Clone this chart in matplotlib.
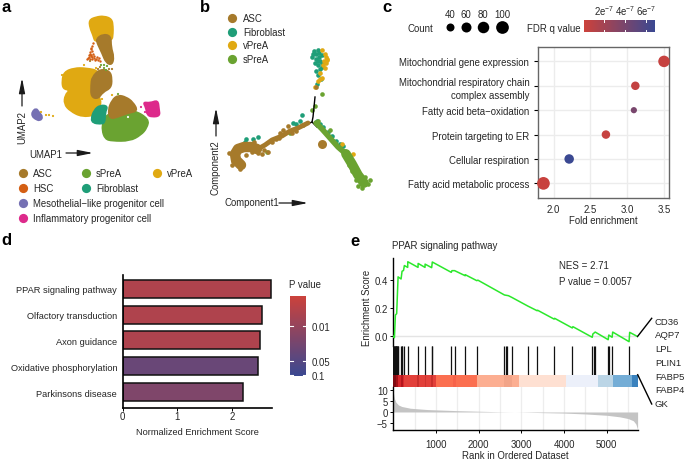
import numpy as np
import matplotlib
matplotlib.use("Agg")
import matplotlib.pyplot as plt
from matplotlib.colors import LinearSegmentedColormap
from matplotlib.patches import PathPatch
from matplotlib.path import Path

plt.rcParams['font.family'] = ['Liberation Sans', 'DejaVu Sans']
plt.rcParams['mathtext.default'] = 'regular'
plt.rcParams['axes.unicode_minus'] = True

W, H = 685, 460
TXT = '#262626'
ASC = '#A67A2B'
SPRE = '#6AA331'
VPRE = '#E0A912'
HSC = '#D45F14'
FIB = '#1F9E78'
MESO = '#7570B3'
INFL = '#DD2A8B'

# a: UMAP regions, outlines
umap_regions = [
    (VPRE, [(89, 21), (96, 18), (104, 17), (112, 20), (113, 28), (113, 34), (112, 42), (103, 38), (98, 39), (95, 43), (93, 36), (90, 29)]),
    (ASC, [(96, 40), (103, 35), (111, 37), (111, 48), (114, 58), (112, 66), (106, 64), (102, 54), (98, 46)]),
    (VPRE, [(62, 82), (64, 73), (74, 69), (86, 69), (100, 72), (98, 86), (96, 95), (101, 100), (100, 109), (96, 116), (82, 118), (70, 112), (64, 105), (65, 96), (70, 91), (63, 90)]),
    (ASC, [(92, 78), (100, 70), (110, 72), (112, 80), (111, 89), (103, 93), (98, 100), (91, 98), (91, 86)]),
    (SPRE, [(103, 123), (107, 115), (120, 113), (134, 111), (149, 120), (147, 129), (141, 136), (130, 142), (112, 142), (105, 140), (102, 131)]),
    (FIB, [(91, 120), (94, 111), (100, 106), (108, 107), (105, 114), (105, 124), (100, 125), (93, 124)]),
    (ASC, [(108, 111), (112, 101), (118, 96), (126, 98), (133, 103), (138, 112), (128, 114), (118, 118), (110, 120)]),
    (INFL, [(143, 103), (150, 104), (158, 101), (159, 110), (160, 117), (152, 118), (147, 116), (146, 109)]),
    (MESO, [(32, 113), (36, 109), (39, 113), (43, 118), (40, 122), (35, 120), (32, 117)]),
]
hsc_x = [93, 92, 91, 90, 89, 88, 90, 92, 94, 96, 98, 100, 97, 93, 91, 87, 89, 91, 95, 99, 92, 90, 94, 91, 92]
hsc_y = [44, 47, 50, 53, 56, 59, 60, 58, 59, 60, 61, 62, 58, 55, 57, 60, 58, 56, 61, 59, 52, 55, 57, 49, 60]
speck_x = [46, 49, 53, 41, 104, 106, 100, 90, 84, 112, 96, 118, 102, 145, 141, 104, 107, 109, 112, 62, 96, 98, 101, 128]
speck_y = [116, 116, 117, 113, 69, 71, 68, 62, 66, 96, 103, 95, 100, 113, 108, 66, 67, 70, 70, 76, 69, 70, 66, 118]
speck_c = [VPRE, VPRE, VPRE, VPRE, SPRE, SPRE, ASC, ASC, VPRE, VPRE, VPRE, SPRE, VPRE, INFL, INFL, SPRE, SPRE, ASC, ASC, VPRE, VPRE, ASC, SPRE, 'white']

# b: trajectory
traj_x = [[315, 313, 312, 317], [312, 290, 262]]
traj_y = [[98, 118, 123, 128], [123, 133, 147]]
asc_band_x = [241, 236, 235, 238, 244, 251, 257]
asc_band_y = [166, 161, 155, 150, 148, 148, 150]
asc_line_x = [258, 265, 272, 282, 290, 298, 308]
asc_line_y = [150, 146, 141, 137, 132, 129, 124]
spre_line_x = [316, 322, 330, 338, 346]
spre_line_y = [124, 130, 139, 148, 155]
spre_wide_x = [346, 352, 358, 364]
spre_wide_y = [155, 165, 176, 184]
asc_x = [229, 232, 246, 252, 258, 264, 268, 272, 276, 280, 288, 296, 303, 316, 233, 240, 248, 254, 262, 283, 279, 292]
asc_y = [154, 166, 156, 153, 154, 151, 153, 143, 140, 134, 127, 132, 126, 88, 162, 170, 150, 143, 155, 131, 139, 134]
asc_blob_x = [322]
asc_blob_y = [145]
fib_x = [312, 314, 316, 318, 320, 322, 318, 320, 316, 318, 321, 317, 302, 300, 296, 293, 246, 253, 258, 245, 317, 320, 323, 328, 332, 336, 340, 343, 319, 322, 313, 316, 319, 315, 322, 318]
fib_y = [58, 52, 60, 51, 62, 56, 66, 70, 72, 76, 80, 85, 116, 122, 125, 124, 140, 140, 138, 143, 122, 125, 128, 133, 137, 142, 145, 147, 54, 64, 55, 55, 58, 64, 68, 62]
vpre_x = [322, 325, 327, 326, 323, 325, 320, 318, 322, 315, 353, 342, 327, 320, 326, 324]
vpre_y = [51, 55, 60, 64, 66, 69, 80, 82, 79, 88, 155, 145, 61, 74, 58, 62]
spre_x = [322, 315, 312, 290, 267, 318, 330, 345, 365, 358, 362, 368, 370, 352, 356, 349]
spre_y = [95, 107, 111, 134, 153, 122, 131, 152, 178, 187, 189, 185, 181, 172, 181, 166]

# c: dot plot
terms = ['Mitochondrial gene expression', 'Mitochondrial respiratory chain\ncomplex assembly',
         'Fatty acid beta\u2212oxidation', 'Protein targeting to ER', 'Cellular respiration',
         'Fatty acid metabolic process']
fold = [3.5, 3.11, 3.09, 2.71, 2.21, 1.86]
counts = [80, 45, 22, 45, 55, 100]
fdr = [0.4e-7, 0.5e-7, 4.0e-7, 0.4e-7, 6.9e-7, 0.3e-7]
count_legend = [40, 60, 80, 100]
fdr_ticks = [2e-7, 4e-7, 6e-7]
fdr_labels = ['2e$^{-7}$', '4e$^{-7}$', '6e$^{-7}$']

# d: bars
pathways = ['PPAR signaling pathway', 'Olfactory transduction', 'Axon guidance',
            'Oxidative phosphorylation', 'Parkinsons disease']
nes = [2.71, 2.55, 2.5, 2.47, 2.19]
bar_pos = [0.2, 0.2, 0.21, 0.68, 0.53]

# e: GSEA
es_rank = [1, 27, 50, 80, 113, 183, 206, 240, 260, 338, 340, 580, 582, 743, 745, 899, 914, 1358, 1374, 1436, 1685, 1687,
           1957, 1980, 2603, 2696, 2775, 3148, 3366, 3380, 3763, 3778, 4191, 4205, 4658, 4672, 4727, 5031, 5045, 5123, 5137,
           5520, 5534, 5720]
es_val = [0.0, -0.01, 0.15, 0.16, 0.42, 0.405, 0.46, 0.465, 0.50, 0.487, 0.527, 0.487, 0.515, 0.487, 0.51, 0.485, 0.525,
          0.452, 0.464, 0.464, 0.428, 0.435, 0.393, 0.397, 0.292, 0.287, 0.275, 0.214, 0.181, 0.184, 0.122, 0.127, 0.059,
          0.068, -0.007, 0.016, 0.03, -0.024, 0.009, -0.007, 0.03, -0.038, 0.028, -0.002]
hits = [5, 15, 25, 35, 45, 55, 65, 75, 85, 95, 105, 113, 183, 195, 206, 260, 338, 580, 743, 899, 914, 1358, 1436, 1685,
        1965, 2603, 2630, 2660, 2775, 3148, 3366, 3763, 4191, 4658, 4700, 4727, 5031, 5060, 5123, 5520]
strip_edges = [1, 60, 110, 190, 220, 250, 560, 600, 740, 770, 880, 930, 1010, 1400, 1480, 1957, 2600, 2780, 2950, 4045, 4800,
               5150, 5580, 5722]
strip_colors = ['#7F0A12', '#A50F15', '#D7262B', '#B3161C', '#D7262B', '#E2403A', '#C9302C', '#E2403A', '#CF3530', '#E2403A',
                '#C9302C', '#E2403A', '#FB6F50', '#F7634A', '#FB6F50', '#FCAE91', '#F2A488', '#FCAE91', '#FEE0D2', '#ECF0FA',
                '#BBD5E6', '#74ADD6', '#3A82BE']
metric_rank = [1, 30, 60, 120, 200, 400, 800, 1500, 2500, 3000, 3500, 4000, 4500, 5000, 5300, 5500, 5620, 5680, 5720]
metric_val = [9, 6, 4.5, 3.2, 2.5, 1.7, 1.1, 0.6, 0.1, -0.05, -0.3, -0.5, -0.9, -1.5, -2.2, -3, -4, -5.5, -8]
genes = ['CD36', 'AQP7', 'LPL', 'PLIN1', 'FABP5', 'FABP4', 'GK']
gene_y = [322.3, 335.7, 349.3, 363.3, 377.3, 390.7, 405]

fdr_cmap = LinearSegmentedColormap.from_list('fdr', ['#CC423C', '#3B4992'])
FS = 6.9


def ax_px(x0, y0, x1, y1):
    return fig.add_axes([x0 / W, 1 - y1 / H, (x1 - x0) / W, (y1 - y0) / H])


def round_blob(pts):
    # closed outline drawn with quadratic corners
    p = np.array(pts, dtype=float)
    mid = (p + np.roll(p, -1, axis=0)) / 2
    verts = [mid[-1]]
    codes = [Path.MOVETO]
    for i in range(len(p)):
        verts += [p[i], mid[i]]
        codes += [Path.CURVE3, Path.CURVE3]
    return Path(verts, codes)


fig = plt.figure(figsize=(W / 100, H / 100), dpi=100)

# overlay in image pixels for labels, legends and panels a, b
ov = fig.add_axes([0, 0, 1, 1])
ov.set_xlim(0, W)
ov.set_ylim(H, 0)
ov.axis('off')


def txt(x, y, s, size=FS, ha='left', va='center', **kw):
    kw.setdefault('color', TXT)
    ov.text(x, y, s, fontsize=size, ha=ha, va=va, **kw)


def arrow(x0, y0, x1, y1):
    ov.annotate('', xy=(x1, y1), xytext=(x0, y0),
                arrowprops=dict(arrowstyle='-|>,head_width=0.18,head_length=0.9', color='#1a1a1a', lw=0.9, shrinkA=0, shrinkB=0))


for s, x, y in [('a', 1, 8), ('b', 200, 8), ('c', 382, 8), ('d', 1, 241), ('e', 350, 242)]:
    txt(x, y, s, size=12, weight='bold', color='black')

# panel a
for col, pts in umap_regions:
    ov.add_patch(PathPatch(round_blob(pts), facecolor=col, edgecolor=col, lw=1.2))
ov.scatter(hsc_x, hsc_y, s=3, color=HSC, lw=0)
ov.scatter(speck_x, speck_y, s=2.5, color=speck_c, lw=0)
arrow(22, 107, 22, 79)
txt(22, 128, 'UMAP2', rotation=90, ha='center')
txt(29, 155, 'UMAP1')
arrow(66, 154, 93, 154)
leg_a = [(23, 174, ASC, 'ASC'), (86, 174, SPRE, 'sPreA'), (157, 174, VPRE, 'vPreA'), (23, 189, HSC, 'HSC'), (86, 189, FIB, 'Fibroblast'),
         (23, 204, MESO, 'Mesothelial\u2212like progenitor cell'), (23, 219, INFL, 'Inflammatory progenitor cell')]
for x, y, c, s in leg_a:
    ov.scatter([x], [y], s=44, color=c, lw=0)
    txt(x + 10, y, s)

# panel b
ov.plot(traj_x[0], traj_y[0], color='black', lw=1)
ov.plot(traj_x[1], traj_y[1], color='black', lw=1)
ov.plot(asc_line_x, asc_line_y, color=ASC, lw=3.5, solid_capstyle='round')
ov.plot(asc_band_x, asc_band_y, color=ASC, lw=7.5, solid_capstyle='round', solid_joinstyle='round')
ov.plot(spre_line_x, spre_line_y, color=SPRE, lw=4, solid_capstyle='round')
ov.plot(spre_wide_x, spre_wide_y, color=SPRE, lw=7, solid_capstyle='round')
ov.scatter(asc_blob_x, asc_blob_y, s=42, color=ASC, lw=0)
ov.scatter(fib_x, fib_y, s=11, color=FIB, lw=0)
ov.scatter(vpre_x, vpre_y, s=11, color=VPRE, lw=0)
ov.scatter(spre_x, spre_y, s=11, color=SPRE, lw=0)
ov.scatter(asc_x, asc_y, s=11, color=ASC, lw=0)
for y, c, s in [(19, ASC, 'ASC'), (32.5, FIB, 'Fibroblast'), (46, VPRE, 'vPreA'), (60, SPRE, 'sPreA')]:
    ov.scatter([232], [y], s=44, color=c, lw=0)
    txt(243, y, s)
arrow(216, 137, 216, 109)
txt(216, 168, 'Component2', rotation=90, ha='center')
txt(225, 203, 'Component1')
arrow(279, 204, 308, 204)

# panel c
axc = ax_px(537.7, 48, 669.3, 199)
size_counts = [20, 40, 60, 80, 100]
size_px = [6, 8, 10, 11.5, 12.7]


def dot_s(c):
    return (np.interp(c, size_counts, size_px) * 0.72) ** 2


y_c = np.arange(len(terms))[::-1]
axc.scatter(fold, y_c, s=dot_s(counts), c=fdr, cmap=fdr_cmap, vmin=0.1e-7, vmax=6.9e-7, lw=0, zorder=3, clip_on=False)
axc.set_xlim(1.782, 3.572)
axc.set_ylim(-0.6, 5.59)
axc.set_xticks([2, 2.5, 3, 3.5])
axc.set_xticklabels(['2.0', '2.5', '3.0', '3.5'], fontsize=FS, color=TXT)
axc.set_yticks(y_c)
axc.set_yticklabels(terms, fontsize=FS, color=TXT, linespacing=1.35)
axc.grid(color='#ECECEC', lw=1)
axc.set_axisbelow(True)
axc.tick_params(axis='x', length=0, pad=4.5)
axc.tick_params(axis='y', length=3, width=0.8, pad=3)
for sp in axc.spines.values():
    sp.set_color('#666666')
    sp.set_linewidth(1)
axc.set_xlabel('Fold enrichment', fontsize=FS, color=TXT, labelpad=0.5)

txt(408, 29, 'Count')
for x, c in zip([450, 466, 483, 502], count_legend):
    ov.scatter([x], [28], s=dot_s(c), color='black', lw=0)
    txt(x, 15, str(c), ha='center')
txt(581, 29, 'FDR q value', ha='right')

axf = ax_px(584, 21, 655, 33)
axf.imshow(np.linspace(0, 1, 200)[None, :], cmap=fdr_cmap, aspect='auto', extent=[0.1e-7, 6.9e-7, 0, 1])
axf.set_xticks(fdr_ticks)
axf.set_xticklabels(fdr_labels, fontsize=FS, color=TXT)
axf.xaxis.tick_top()
axf.set_yticks([])
axf.tick_params(axis='x', length=0, pad=2)
for sp in axf.spines.values():
    sp.set_visible(False)
for t in fdr_ticks:
    axf.plot([t, t], [0, 0.2], color='white', lw=0.7)
    axf.plot([t, t], [0.8, 1], color='white', lw=0.7)
axf.set_ylim(0, 1)

# panel d
axd = ax_px(122.7, 276, 271.7, 409)
y_d = np.arange(len(pathways))
axd.barh(y_d, nes, height=0.7, color=fdr_cmap(bar_pos), edgecolor='#111111', lw=1.1)
axd.set_xlim(0, 2.72)
axd.set_ylim(4.62, -0.54)
axd.set_yticks(y_d)
axd.set_yticklabels(pathways, fontsize=6.7, color=TXT)
axd.set_xticks([0, 1, 2])
axd.set_xticklabels(['0', '1', '2'], fontsize=FS, color=TXT)
axd.tick_params(axis='y', length=0, pad=4)
axd.tick_params(axis='x', length=2, width=0.7, pad=0.5)
axd.spines[['top', 'right']].set_visible(False)
axd.spines[['left', 'bottom']].set_linewidth(1.2)
axd.set_xlabel('Normalized Enrichment Score', fontsize=6.7, color=TXT, labelpad=4)

txt(289, 285, 'P value')
axp = ax_px(290, 296.7, 305.7, 376.7)
axp.imshow(np.linspace(0, 1, 200)[:, None], cmap=fdr_cmap, aspect='auto', extent=[0, 1, 1, 0])
axp.set_xticks([])
axp.set_ylim(1, 0)
p_ticks = [0.375, 0.816, 0.99]
axp.set_yticks(p_ticks)
axp.set_yticklabels(['0.01', '0.05', '0.1'], fontsize=FS, color=TXT)
axp.yaxis.tick_right()
axp.tick_params(axis='y', length=0, pad=4)
for sp in axp.spines.values():
    sp.set_visible(False)
for t in p_ticks:
    axp.plot([0, 0.2], [t, t], color='white', lw=0.8)
    axp.plot([0.8, 1], [t, t], color='white', lw=0.8)
axp.set_xlim(0, 1)

# panel e
XL = (1, 5722)
axes_e = ax_px(393.3, 259, 637.7, 346.7)
axes_e.plot(es_rank, es_val, color='#2BE82B', lw=1.1, zorder=3)
axes_e.axhline(0, color='#E4E4E4', lw=1, zorder=1)
axes_e.set_xlim(XL)
axes_e.set_ylim((337.3 - 346.7) / 141.5, (337.3 - 259) / 141.5)
axes_e.set_yticks([0, 0.2, 0.4])
axes_e.set_yticklabels(['0.0', '0.2', '0.4'], fontsize=FS, color=TXT)
axes_e.set_xticks([])
axes_e.spines[['top', 'right', 'bottom']].set_visible(False)
axes_e.spines['left'].set_linewidth(1)
axes_e.tick_params(axis='y', length=2.5, width=0.7, pad=1.5)
axes_e.patch.set_alpha(0)

axr = ax_px(393.3, 346.7, 637.7, 375.7)
axr.vlines(hits, 0, 1, color='#111111', lw=0.9)
axr.set_xlim(XL)
axr.set_ylim(0, 1)
axr.axis('off')

axs = ax_px(393.3, 375.7, 637.7, 388)
axs.bar(strip_edges[:-1], [1] * len(strip_colors), width=np.diff(strip_edges), align='edge', color=strip_colors, lw=0)
axs.set_xlim(XL)
axs.set_ylim(0, 1)
axs.axis('off')

axm = ax_px(393.3, 388, 637.7, 430.7)
axm.fill_between(metric_rank, metric_val, 0, color='#C4C4C4', lw=0, zorder=2)
for g in range(500, 5501, 500):
    axm.axvline(g, color='#EDEDED', lw=0.9, zorder=1)
axm.set_xlim(XL)
axm.set_ylim(-8.05, 11.35)
axm.set_xticks([1000, 2000, 3000, 4000, 5000])
axm.set_xticklabels(['1000', '2000', '3000', '4000', '5000'], fontsize=FS, color=TXT)
axm.set_yticks([-5, 0, 5, 10])
axm.set_yticklabels(['\u22125', '0', '5', '10'], fontsize=FS, color=TXT)
axm.spines[['top', 'right']].set_visible(False)
axm.spines[['left', 'bottom']].set_linewidth(1)
axm.tick_params(length=2.5, width=0.7, pad=1.5)
axm.tick_params(axis='x', pad=4.5)
axm.set_xlabel('Rank in Ordered Dataset', fontsize=FS, color=TXT, labelpad=0.5)

txt(367, 308, 'Enrichment Score', rotation=90, ha='center')
txt(392, 246, 'PPAR signaling pathway', size=7)
txt(558.7, 266, 'NES = 2.71', size=7)
txt(558.7, 281.7, 'P value = 0.0057', size=7)
for g, y in zip(genes, gene_y):
    txt(655, y, g, size=6.8)
ov.plot([637.7, 651.7], [337.3, 319.3], color='black', lw=1)
ov.plot([637.7, 651.7], [375.7, 405], color='black', lw=1)
ov.set_zorder(10)
ov.patch.set_alpha(0)

fig.savefig('out.png', dpi=100)
